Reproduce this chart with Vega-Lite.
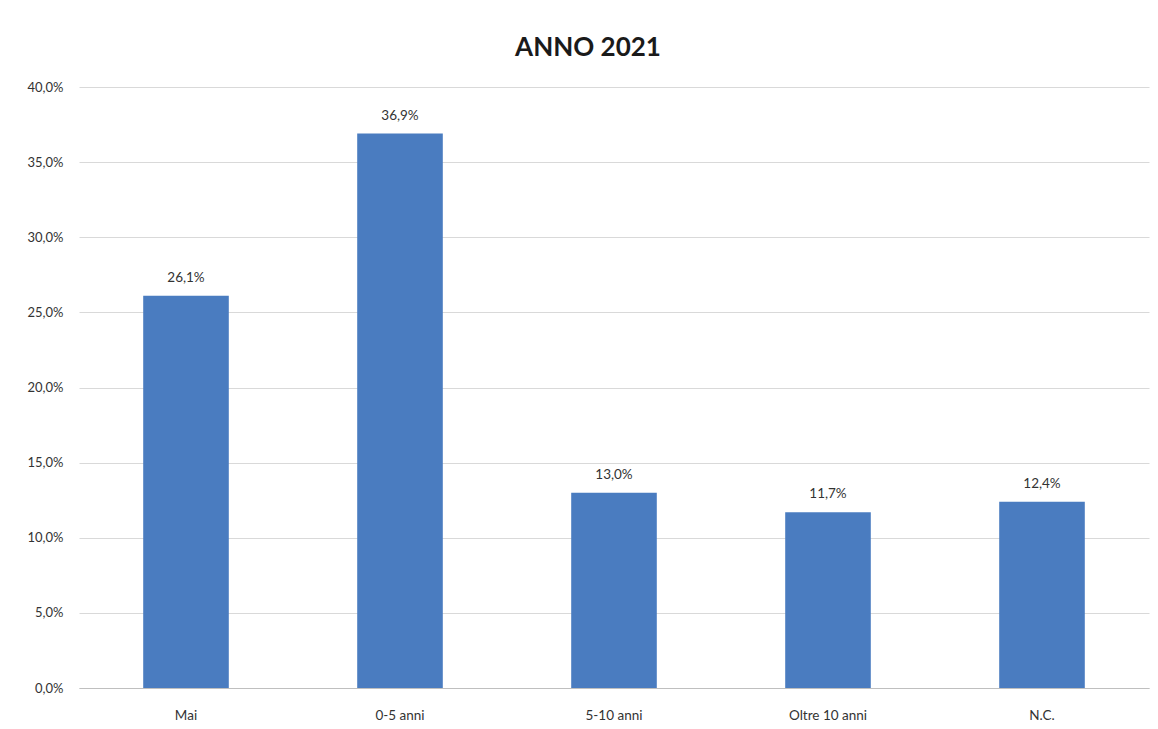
{
  "$schema": "https://vega.github.io/schema/vega-lite/v6.json",
  "autosize": {"type": "none"},
  "width": 1070,
  "height": 601,
  "padding": {"left": 79, "top": 87, "right": 9, "bottom": 41},
  "background": "white",
  "title": {
    "text": "ANNO 2021",
    "font": "Lato",
    "fontSize": 26,
    "fontWeight": "bold",
    "color": "#1a1a1a",
    "anchor": "middle",
    "dx": -26,
    "offset": 20
  },
  "config": {
    "locale": {
      "number": {"decimal": ",", "thousands": ".", "grouping": [3], "currency": ["€", ""]}
    },
    "view": {"stroke": null},
    "font": "Lato"
  },
  "data": {
    "values": [
      {"categoria": "Mai", "valore": 0.261},
      {"categoria": "0-5 anni", "valore": 0.369},
      {"categoria": "5-10 anni", "valore": 0.130},
      {"categoria": "Oltre 10 anni", "valore": 0.117},
      {"categoria": "N.C.", "valore": 0.124}
    ]
  },
  "encoding": {
    "x": {
      "field": "categoria",
      "type": "nominal",
      "sort": null,
      "scale": {"paddingInner": 0.6, "paddingOuter": 0.3},
      "axis": {
        "title": null,
        "labelAngle": 0,
        "labelFont": "Lato",
        "labelFontSize": 13.5,
        "labelColor": "#333333",
        "labelPadding": 20,
        "ticks": false,
        "domain": true,
        "domainColor": "#bfbfbf",
        "grid": false
      }
    },
    "y": {
      "field": "valore",
      "type": "quantitative",
      "scale": {"domain": [0, 0.4], "nice": false},
      "axis": {
        "title": null,
        "format": ".1%",
        "values": [0, 0.05, 0.1, 0.15, 0.2, 0.25, 0.3, 0.35, 0.4],
        "labelFont": "Lato",
        "labelFontSize": 13,
        "labelColor": "#333333",
        "labelPadding": 16,
        "ticks": false,
        "domain": false,
        "grid": true,
        "gridColor": "#d9d9d9",
        "gridWidth": 1
      }
    }
  },
  "layer": [
    {
      "mark": {"type": "bar", "color": "#4a7cc0"}
    },
    {
      "mark": {"type": "text", "dy": -18, "font": "Lato", "fontSize": 13.5, "color": "#333333"},
      "encoding": {
        "text": {"field": "valore", "type": "quantitative", "format": ".1%"}
      }
    }
  ]
}
